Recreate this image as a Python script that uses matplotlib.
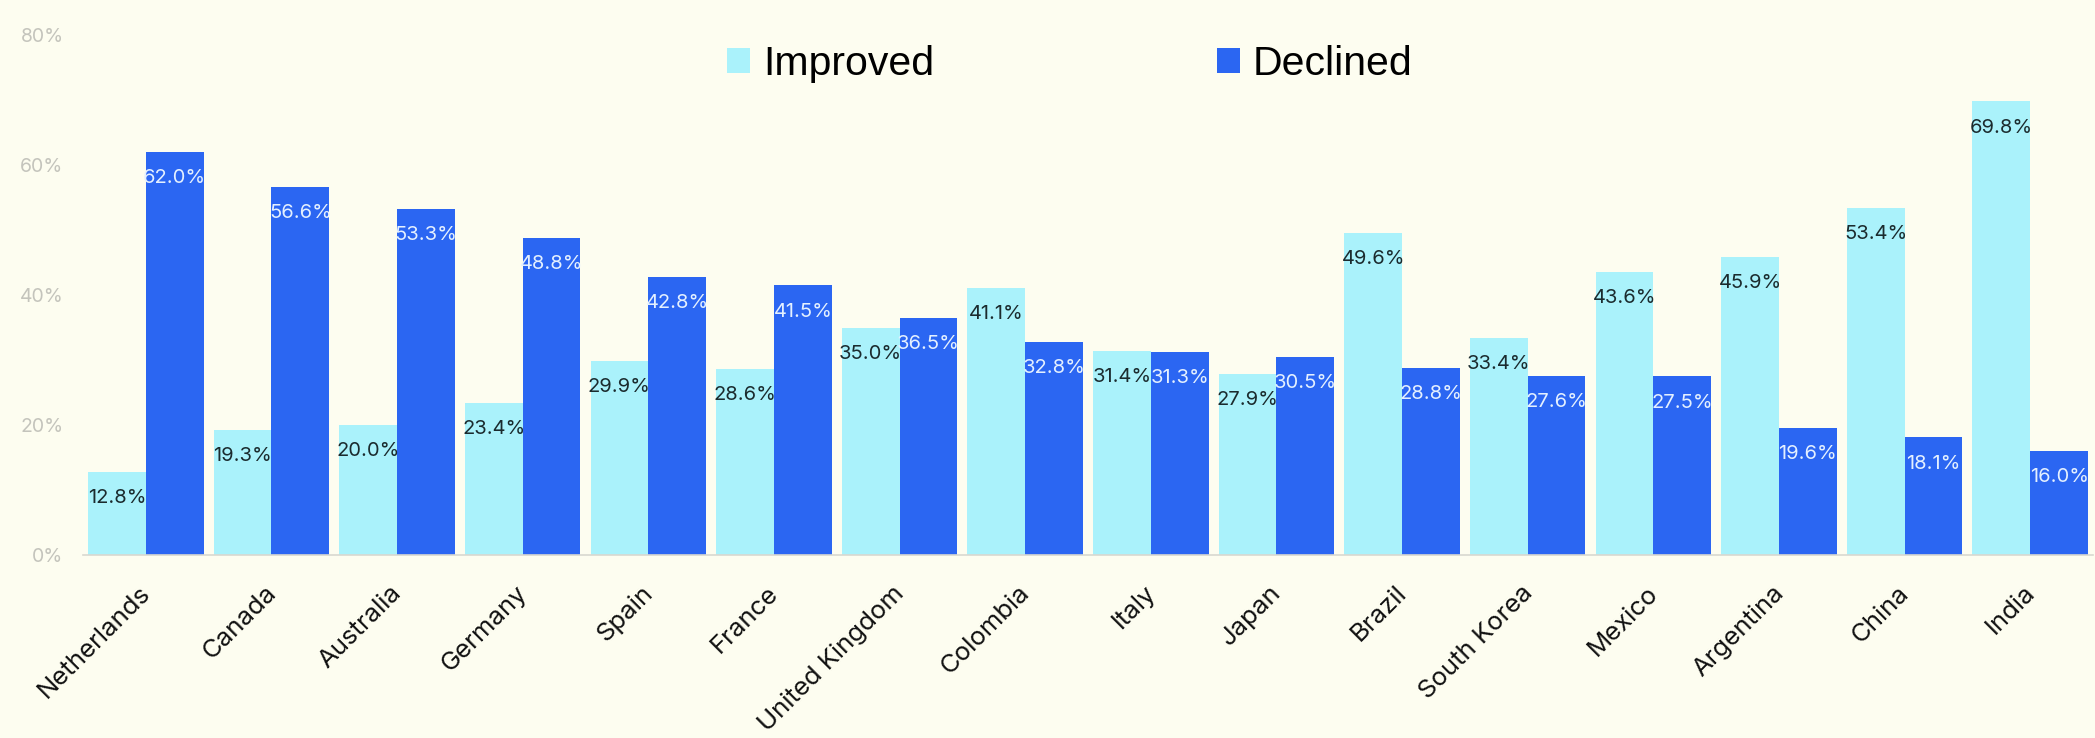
import numpy as np
import matplotlib
matplotlib.use("Agg")
import matplotlib.pyplot as plt
from matplotlib.transforms import ScaledTranslation

countries = ["Netherlands", "Canada", "Australia", "Germany", "Spain", "France",
             "United Kingdom", "Colombia", "Italy", "Japan", "Brazil", "South Korea",
             "Mexico", "Argentina", "China", "India"]
improved = [12.8, 19.3, 20.0, 23.4, 29.9, 28.6, 35.0, 41.1, 31.4, 27.9, 49.6, 33.4,
            43.6, 45.9, 53.4, 69.8]
declined = [62.0, 56.6, 53.3, 48.8, 42.8, 41.5, 36.5, 32.8, 31.3, 30.5, 28.8, 27.6,
            27.5, 19.6, 18.1, 16.0]
yticks = [0, 20, 40, 60, 80]

bg = "#fdfdf0"
c_imp = "#aaf2fb"
c_dec = "#2b66f2"

fig = plt.figure(figsize=(20.95, 7.38), dpi=100, facecolor=bg)
ax = fig.add_axes([83 / 2095, 1 - 555 / 738, 2010 / 2095, 520 / 738])
ax.set_facecolor(bg)

x = np.arange(len(countries))
w = 0.46
b1 = ax.bar(x - w / 2, improved, w, color=c_imp, label="Improved")
b2 = ax.bar(x + w / 2, declined, w, color=c_dec, label="Declined")

# value labels sit just inside the top of each bar
lab_font = ["Inter", "DejaVu Sans"]
for rect, v in zip(b1, improved):
    ax.annotate(f"{v:.1f}%", (rect.get_x() + rect.get_width() / 2, v),
                xytext=(0, -19), textcoords="offset points", ha="center", va="center",
                fontsize=14.5, color="#1b2b2e", family=lab_font)
for rect, v in zip(b2, declined):
    ax.annotate(f"{v:.1f}%", (rect.get_x() + rect.get_width() / 2, v),
                xytext=(0, -19), textcoords="offset points", ha="center", va="center",
                fontsize=14.5, color="#e4f0ff", family=lab_font)

ax.set_xlim(-0.5, 15.5)
ax.set_ylim(0, 80)
ax.set_yticks(yticks)
ax.set_yticklabels([f"{t}%" for t in yticks], color="#c4c4bc", fontsize=14, family=lab_font)
ax.set_xticks(x)
ax.set_xticklabels(countries, rotation=45, ha="right", rotation_mode="anchor",
                   fontsize=18.5, family=lab_font, color="#111111")
ax.tick_params(axis="both", length=0)
ax.tick_params(axis="y", pad=14)
ax.tick_params(axis="x", pad=19)
shift = ScaledTranslation(-7 / 100, 0, fig.dpi_scale_trans)
for lbl in ax.get_xticklabels():
    lbl.set_transform(lbl.get_transform() + shift)
for s in ["top", "right", "left"]:
    ax.spines[s].set_visible(False)
ax.spines["bottom"].set_color("#d8d8d0")
ax.spines["bottom"].set_linewidth(1.2)

fig.legend(handles=[b1, b2], loc="center", bbox_to_anchor=(1070 / 2095, 1 - 64 / 738),
           ncol=2, frameon=False, handlelength=0.56, handleheight=0.56,
           handletextpad=0.32, columnspacing=6.9,
           prop={"family": ["Liberation Sans", "DejaVu Sans"], "size": 29.5})

fig.savefig("out.png", dpi=100, facecolor=bg)
